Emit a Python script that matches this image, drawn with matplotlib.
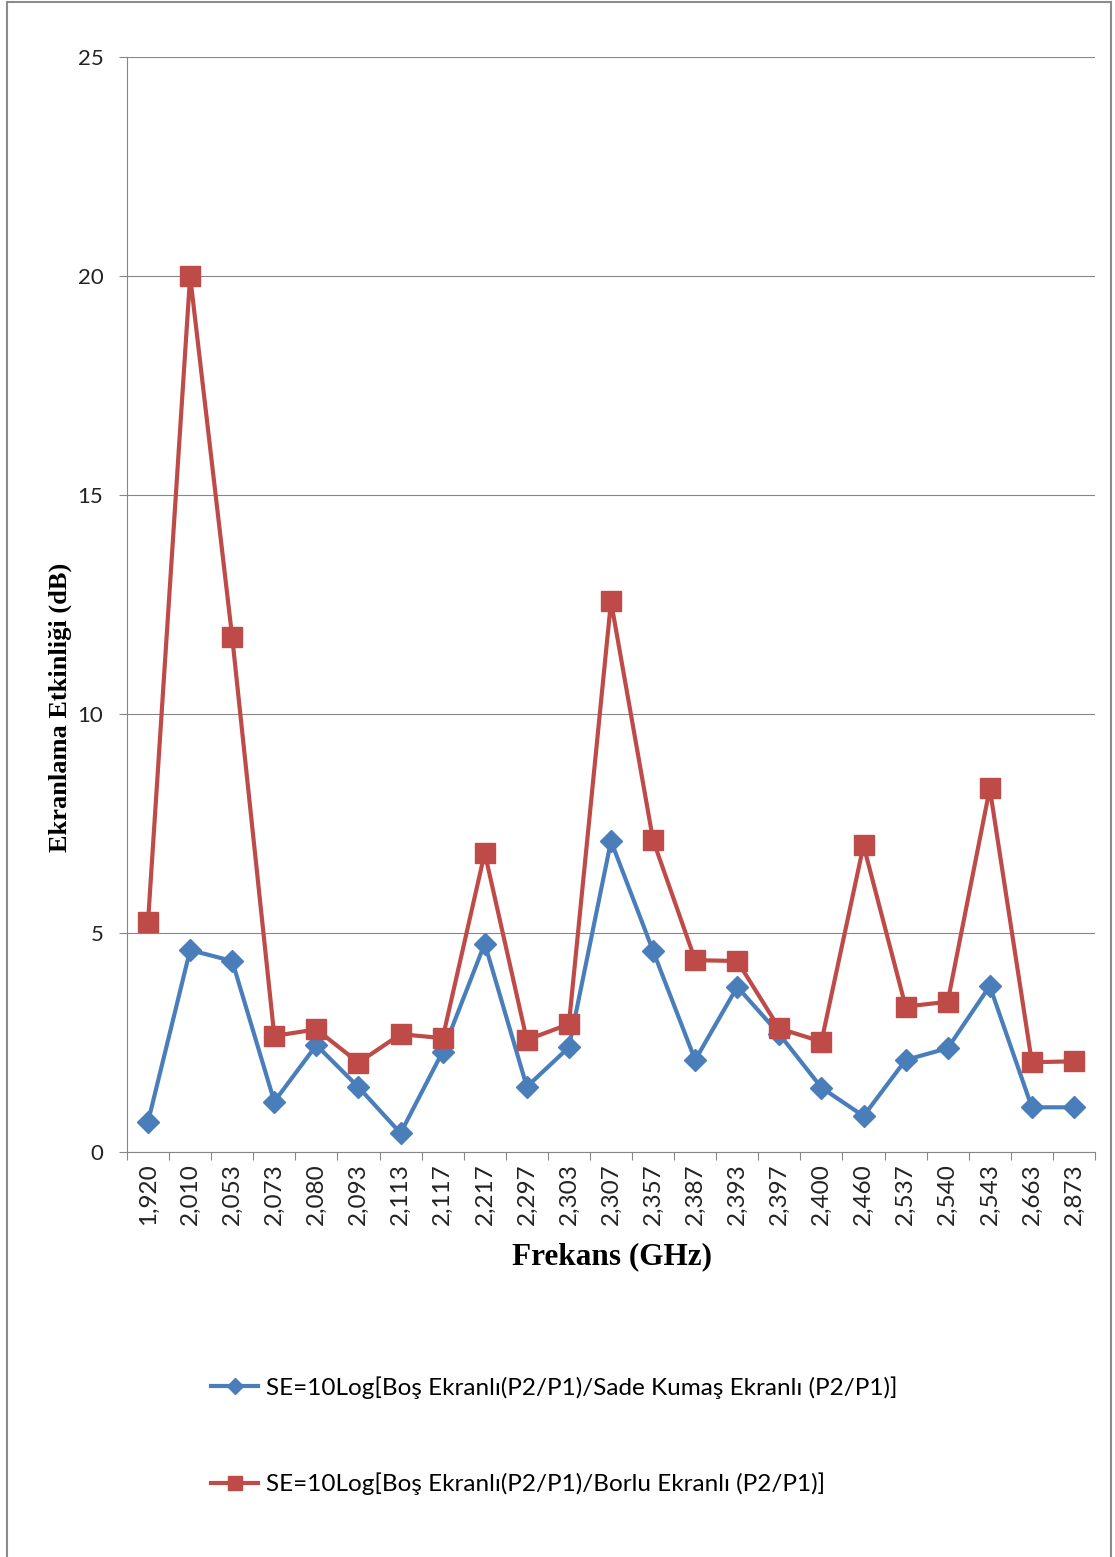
import matplotlib.pyplot as plt
from matplotlib.patches import Rectangle

# frekans noktalari (GHz) - kategori etiketleri
frekans = ["1,920", "2,010", "2,053", "2,073", "2,080", "2,093", "2,113", "2,117",
           "2,217", "2,297", "2,303", "2,307", "2,357", "2,387", "2,393", "2,397",
           "2,400", "2,460", "2,537", "2,540", "2,543", "2,663", "2,873"]

# sade kumas ekranli
se_sade = [0.69, 4.61, 4.36, 1.15, 2.44, 1.48, 0.43, 2.29, 4.76, 1.49, 2.39, 7.10,
           4.59, 2.10, 3.77, 2.69, 1.47, 0.82, 2.10, 2.37, 3.79, 1.02, 1.02]

# borlu ekranli
se_borlu = [5.26, 20.0, 11.75, 2.65, 2.80, 2.04, 2.69, 2.60, 6.83, 2.56, 2.92, 12.57,
            7.12, 4.38, 4.36, 2.82, 2.52, 7.00, 3.32, 3.43, 8.30, 2.05, 2.07]

etiket_sade = "SE=10Log[Boş Ekranlı(P2/P1)/Sade Kumaş Ekranlı (P2/P1)]"
etiket_borlu = "SE=10Log[Boş Ekranlı(P2/P1)/Borlu Ekranlı (P2/P1)]"

yticks = [0, 5, 10, 15, 20, 25]

mavi = "#4A7EBB"
kirmizi = "#BE4B48"
gri = "#868686"

plt.rcParams['font.family'] = ['Lato', 'DejaVu Sans']

W, H = 1115, 1557
fig = plt.figure(figsize=(W / 100, H / 100), dpi=100)
ax = fig.add_axes([127 / W, 1 - 1152 / H, (1095 - 127) / W, (1152 - 57) / H])

x = list(range(len(frekans)))
ax.plot(x, se_sade, color=mavi, lw=3, marker="D", ms=11.5, mec=mavi, label=etiket_sade, zorder=3)
ax.plot(x, se_borlu, color=kirmizi, lw=3, marker="s", ms=14, mec=kirmizi, label=etiket_borlu, zorder=3)

ax.set_xlim(-0.5, len(frekans) - 0.5)
ax.set_ylim(0, 25)
ax.set_yticks(yticks)
ax.set_yticklabels([str(v) for v in yticks], fontsize=16, color="#222222")
ax.tick_params(axis="y", length=6, width=0.8, color=gri, pad=11)

ax.set_xticks(x)
ax.set_xticklabels(frekans, rotation=90, fontsize=17.5, color="#222222")
ax.tick_params(axis="x", which="major", length=0, pad=8)
ax.set_xticks([i - 0.5 for i in range(len(frekans) + 1)], minor=True)
ax.tick_params(axis="x", which="minor", length=6, width=0.8, color=gri)

ax.grid(axis="y", color=gri, lw=0.8)
ax.set_axisbelow(True)
for s in ["top", "right"]:
    ax.spines[s].set_visible(False)
for s in ["left", "bottom"]:
    ax.spines[s].set_color(gri)
    ax.spines[s].set_linewidth(0.8)

fig.text(612 / W, 1 - 1257 / H, "Frekans (GHz)", ha="center", va="center",
         fontsize=22.5, fontweight="bold", family="Liberation Serif")
fig.text(60 / W, 1 - 707 / H, "Ekranlama Etkinliği (dB)", ha="center", va="center",
         rotation=90, fontsize=19, fontweight="bold", family="Liberation Serif")

fig.legend(loc="upper left", bbox_to_anchor=(211 / W, 1 - 1376 / H), frameon=False,
           fontsize=17.5, handlelength=1.95, handletextpad=0.3, labelspacing=3.05,
           markerscale=0.75, borderpad=0, borderaxespad=0)

# dis cerceve
fig.patches.append(Rectangle((7 / W, -0.01), (1111 - 7) / W, 1.01 - 2 / H,
                             transform=fig.transFigure, fill=False, ec="#8c8c8c", lw=1.5))

fig.savefig("out.png", dpi=100)
